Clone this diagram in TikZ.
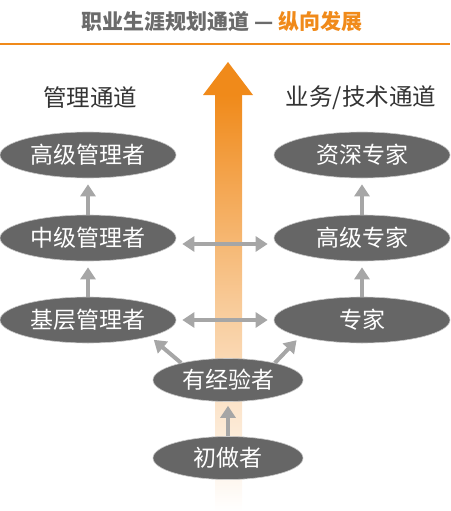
\documentclass[tikz,border=0pt]{standalone}
\usepackage{fontspec}
\setmainfont{Noto Sans CJK SC}
\usetikzlibrary{arrows.meta,shapes.geometric}
\definecolor{accent}{HTML}{F08A1A}
\definecolor{titlegray}{HTML}{6B6B6B}
\definecolor{ink}{HTML}{333333}
\definecolor{pill}{HTML}{666666}
\definecolor{pillrim}{HTML}{C8C8C8}
\definecolor{conn}{HTML}{A6A6A6}
\tikzset{
  role/.style={ellipse, fill=pill, draw=pillrim, line width=0.6pt, text=white,
               inner sep=0pt, minimum width=176pt, minimum height=46pt,
               font=\fontsize{23}{27}\selectfont},
  junior/.style={role, minimum width=150pt, minimum height=43pt},
  track/.style={text=ink, font=\fontsize{23.5}{27}\selectfont},
  ar/.style={-{Triangle[length=12pt,width=15pt]}, line width=4pt, draw=conn},
  arboth/.style={{Triangle[length=12pt,width=15pt]}-{Triangle[length=12pt,width=15pt]},
                 line width=4pt, draw=conn}
}

\begin{document}
\begin{tikzpicture}[x=1pt,y=-1pt]
  \useasboundingbox (0,0) rectangle (450,511);

  % title and rule
  \node (title) at (222,22) {\fontsize{21}{25}\selectfont\bfseries
     {\color{titlegray}职业生涯规划通道 — }{\color{accent}纵向发展}};
  \draw[accent, line width=1.5pt] (0,44) -- (450,44);

  % big upward arrow
  \shade[top color=accent, bottom color=white, middle color=accent!45]
     (215,95) rectangle (242,511);
  \fill[accent] (203,95) -- (228,62) -- (253,95) -- cycle;

  \node[track] (mgrhead) at (90,98) {管理通道};
  \node[track] (spchead) at (361,98) {业务/技术通道};

  \node[role] (mgr3) at (88,155) {高级管理者};
  \node[role] (mgr2) at (88,238) {中级管理者};
  \node[role] (mgr1) at (88,320) {基层管理者};

  \node[role] (spc3) at (362,155) {资深专家};
  \node[role] (spc2) at (362,238) {高级专家};
  \node[role] (spc1) at (362,320) {专家};

  \node[junior] (exp) at (228,380) {有经验者};
  \node[junior] (novice) at (228,458) {初做者};

  \draw[ar, shorten >=6pt] (mgr2.north) -- (mgr3.south);
  \draw[ar, shorten >=6pt] (mgr1.north) -- (mgr2.south);
  \draw[ar, shorten >=6pt] (spc2.north) -- (spc3.south);
  \draw[ar, shorten >=6pt] (spc1.north) -- (spc2.south);

  \draw[arboth, shorten >=6pt, shorten <=6pt]
     ([yshift=-6pt]mgr2.east) -- ([yshift=-6pt]spc2.west);
  \draw[arboth, shorten >=6pt, shorten <=6pt] (mgr1.east) -- (spc1.west);

  \draw[ar, shorten >=5pt] (exp.160) -- (mgr1.-15);
  \draw[ar, shorten >=5pt] (exp.20) -- (spc1.195);
  \draw[ar, shorten >=4pt] (novice.north) -- (exp.south);
\end{tikzpicture}
\end{document}
